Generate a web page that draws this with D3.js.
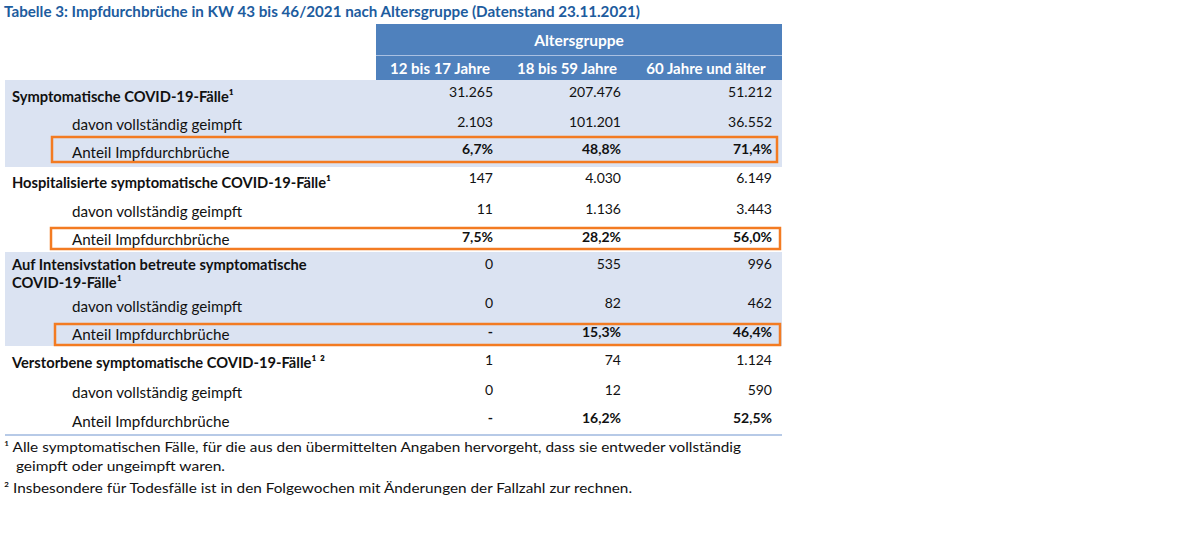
<!DOCTYPE html>
<html><head><meta charset="utf-8">
<script src="https://cdn.jsdelivr.net/npm/d3@7"></script>
<style>
html,body{margin:0;padding:0;background:#fff;}
svg{display:block;font-family:Lato,"Open Sans",sans-serif;}
</style></head>
<body><svg id="c" width="1200" height="536"></svg>
<script>
// ---------- data ----------
const title = "Tabelle 3: Impfdurchbrüche in KW 43 bis 46/2021 nach Altersgruppe (Datenstand 23.11.2021)";
const headerGroup = "Altersgruppe";
const columns = ["12 bis 17 Jahre", "18 bis 59 Jahre", "60 Jahre und älter"];
const groupLabels = [
  ["Symptomatische COVID-19-Fälle¹"],
  ["Hospitalisierte symptomatische COVID-19-Fälle¹"],
  ["Auf Intensivstation betreute symptomatische", "COVID-19-Fälle¹"],
  ["Verstorbene symptomatische COVID-19-Fälle¹ ²"]
];
const subLabels = ["davon vollständig geimpft", "Anteil Impfdurchbrüche"];
const totals     = [["31.265","207.476","51.212"],["147","4.030","6.149"],["0","535","996"],["1","74","1.124"]];
const vaccinated = [["2.103","101.201","36.552"],["11","1.136","3.443"],["0","82","462"],["0","12","590"]];
const shares     = [["6,7%","48,8%","71,4%"],["7,5%","28,2%","56,0%"],["-","15,3%","46,4%"],["-","16,2%","52,5%"]];
const highlighted = [true, true, true, false];
const footnotes = [
  "¹ Alle symptomatischen Fälle, für die aus den übermittelten Angaben hervorgeht, dass sie entweder vollständig",
  "   geimpft oder ungeimpft waren.",
  "² Insbesondere für Todesfälle ist in den Folgewochen mit Änderungen der Fallzahl zur rechnen."
];

// ---------- layout ----------
const svg = d3.select("#c");
const blue = "#4f81bd", band = "#dbe3f2", orange = "#f37b22", ink = "#111";
const colX = d3.scaleOrdinal().domain(columns).range([493, 621, 772]);
const colCenter = d3.scaleOrdinal().domain(columns).range([440, 567, 706]);
const groupBox = [[80,167],[167,252],[252,346],[346,434]];
const labelBase = [[102,130,158],[188,217,245],[270,312,340],[368,398,427]];
const valueBase = [[97,127,154],[183,214,242],[269,308,337],[365,395,423]];
const hlBox = [[52,137,777,162],[51,228,780,249],[55,324,780,345]];

// title
svg.append("text").attr("x",4).attr("y",17).attr("fill","#1d5c9e")
  .attr("font-weight","bold").attr("font-size",14.5).text(title)
  .attr("textLength",636).attr("lengthAdjust","spacingAndGlyphs");

// header
svg.append("rect").attr("x",376).attr("y",24).attr("width",406).attr("height",56).attr("fill",blue);
svg.append("line").attr("x1",376).attr("x2",782).attr("y1",55.5).attr("y2",55.5).attr("stroke","#a9c0e2").attr("stroke-width",1.2);
svg.append("text").attr("x",579).attr("y",46).attr("text-anchor","middle").attr("fill","#fff")
  .attr("font-weight","bold").attr("font-size",15.5).text(headerGroup);
svg.selectAll("text.col").data(columns).enter().append("text").attr("class","col")
  .attr("x",d=>colCenter(d)).attr("y",74).attr("text-anchor","middle").attr("fill","#fff")
  .attr("font-weight","bold").attr("font-size",15).text(d=>d);

// bands
groupBox.forEach((b,i)=>{
  if(i%2===0) svg.append("rect").attr("x",5).attr("y",b[0]).attr("width",777).attr("height",b[1]-b[0]).attr("fill",band);
});
svg.append("line").attr("x1",5).attr("x2",782).attr("y1",435).attr("y2",435).attr("stroke","#9fb8df").attr("stroke-width",1.5);

// highlight boxes
highlighted.forEach((h,i)=>{
  if(!h) return;
  const b = hlBox[i];
  svg.append("rect").attr("x",b[0]).attr("y",b[1]).attr("width",b[2]-b[0]).attr("height",b[3]-b[1])
    .attr("fill","none").attr("stroke",orange).attr("stroke-width",2.5);
});

// rows
groupLabels.forEach((lines,g)=>{
  lines.forEach((l,k)=>{
    svg.append("text").attr("x",12).attr("y",labelBase[g][0]+k*18).attr("fill",ink)
      .attr("font-weight","bold").attr("font-size",14.7).text(l);
  });
  subLabels.forEach((s,k)=>{
    svg.append("text").attr("x",72).attr("y",labelBase[g][k+1]).attr("fill",ink)
      .attr("font-size",15.2).text(s);
  });
  [totals[g], vaccinated[g], shares[g]].forEach((vals,r)=>{
    svg.selectAll(null).data(vals).enter().append("text")
      .attr("x",(d,c)=>colX(columns[c])).attr("y",valueBase[g][r]).attr("text-anchor","end")
      .attr("fill",ink).attr("font-size",14).attr("font-weight",r===2?"bold":"normal").text(d=>d);
  });
});

// footnotes
const fnY = [452, 471, 493];
const fnW = [737, 221, 628];
footnotes.forEach((f,i)=>{
  svg.append("text").attr("x",4).attr("y",fnY[i]).attr("fill",ink).attr("font-size",14)
    .attr("xml:space","preserve").style("white-space","pre").text(f)
    .attr("textLength",fnW[i]).attr("lengthAdjust","spacingAndGlyphs");
});
</script></body></html>
